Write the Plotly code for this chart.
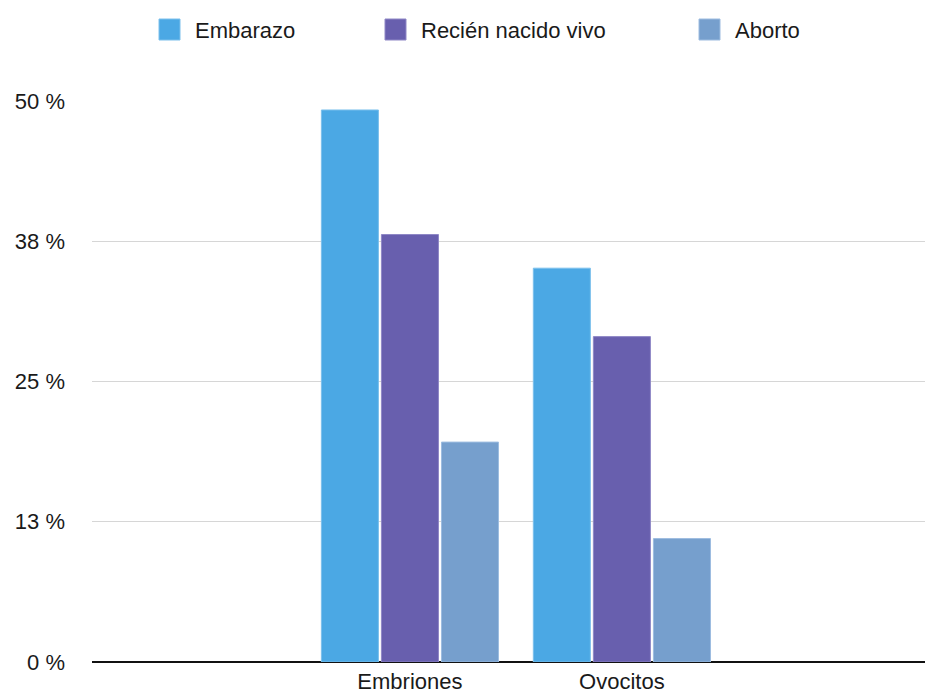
import plotly.graph_objects as go

# ---- data ----
categories = ["Embriones", "Ovocitos"]
series_names = ["Embarazo", "Recién nacido vivo", "Aborto"]
embarazo = [49.2, 35.1]
recien_nacido_vivo = [38.1, 29.0]
aborto = [19.6, 11.0]
tick_values = [0, 12.5, 25, 37.5, 50]
tick_labels = ["0 %", "13 %", "25 %", "38 %", "50 %"]

colors = ["#4BA8E4", "#685FAE", "#769FCD"]
line_colors = ["#7CC0EC", "#8F88C6", "#9DBCE0"]

W, H = 925, 696
L, R, T, B = 92, 0, 101, 34
FONT = "Liberation Sans, Arial, Helvetica, sans-serif"
FS = 22
TXT = "#1A1A1A"

fig = go.Figure()
for name, vals, c, lc in zip(series_names, [embarazo, recien_nacido_vivo, aborto], colors, line_colors):
    fig.add_trace(go.Bar(x=categories, y=vals, name=name,
                         marker=dict(color=c, line=dict(color=lc, width=1)),
                         showlegend=False, hoverinfo="x+y+name"))

def px_x(p):
    return (p - L) / (W - L - R)

def px_y(p):
    return (H - B - p) / (H - T - B)

# custom legend (layout, not data)
shapes = []
annotations = []
leg_x = [159, 385, 699]
for name, c, lc, x0 in zip(series_names, colors, line_colors, leg_x):
    shapes.append(dict(type="rect", xref="paper", yref="paper",
                       x0=px_x(x0), x1=px_x(x0 + 21), y0=px_y(40), y1=px_y(19),
                       fillcolor=c, line=dict(color=lc, width=1), layer="above"))
    annotations.append(dict(xref="paper", yref="paper", x=px_x(x0 + 34), y=px_y(30),
                            xanchor="left", yanchor="middle", text=name, showarrow=False,
                            font=dict(family=FONT, size=FS, color=TXT)))

fig.update_layout(
    width=W, height=H,
    margin=dict(l=L, r=R, t=T, b=B, pad=0, autoexpand=False),
    paper_bgcolor="white", plot_bgcolor="white",
    barmode="group", bargap=0.15, bargroupgap=0.05,
    font=dict(family=FONT, size=FS, color=TXT),
    shapes=shapes, annotations=annotations,
    xaxis=dict(type="category", range=[-1.5, 2.43], showgrid=False, showline=False,
               zeroline=False, ticks="", ticklabelstandoff=4, automargin=False,
               tickfont=dict(family=FONT, size=FS, color=TXT)),
    yaxis=dict(range=[0, 50], tickvals=tick_values, ticktext=tick_labels,
               showgrid=True, gridcolor="#D6D6D6", gridwidth=1,
               zeroline=True, zerolinecolor="#111111", zerolinewidth=2,
               showline=False, ticks="", ticklabelstandoff=26, automargin=False,
               tickfont=dict(family=FONT, size=FS, color=TXT)),
)

fig.write_html("out.html")
